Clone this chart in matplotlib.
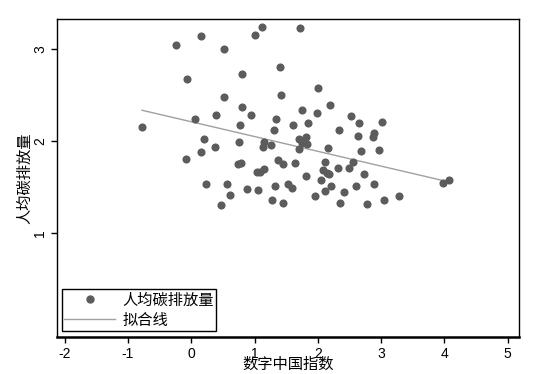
import matplotlib
matplotlib.use("Agg")
import matplotlib.pyplot as plt
from matplotlib.lines import Line2D
import numpy as np

# 数字中国指数 (x) and 人均碳排放量 (y)
digital_index = [
    1.110, 1.716, 0.155, 1.004, -0.245, 0.525, 1.399, 0.794, -0.066, 0.525,
    1.415, 0.803, 0.060, 0.398, 0.946, 1.341, 0.772, 1.309, 1.610, -0.778,
    0.202, 0.372, 0.762, 1.157, 1.131, 1.262, 0.155, -0.087, 0.731, 0.783,
    1.373, 1.452, 1.632, 1.031, 1.083, 1.157, 0.225, 0.566, 0.882, 1.056,
    1.316, 1.526, 1.594, 0.620, 0.466, 1.278, 1.447, 1.996, 2.190, 1.752,
    1.985, 1.837, 2.527, 2.649, 3.017, 2.337, 2.628, 2.891, 2.875, 1.811,
    1.705, 1.743, 1.822, 1.700, 2.158, 2.685, 2.970, 2.106, 2.549, 2.084,
    2.138, 2.179, 2.321, 2.491, 2.732, 1.811, 2.048, 2.886, 3.982, 4.067,
    2.211, 2.596, 2.111, 2.411, 1.958, 2.348, 2.775, 3.039, 3.281,
]
carbon_pc = [
    3.246, 3.228, 3.145, 3.152, 3.047, 3.007, 2.804, 2.735, 2.677, 2.485,
    2.500, 2.376, 2.242, 2.283, 2.289, 2.242, 2.177, 2.126, 2.177, 2.159,
    2.022, 1.941, 1.989, 1.989, 1.941, 1.957, 1.887, 1.808, 1.750, 1.764,
    1.793, 1.753, 1.767, 1.663, 1.670, 1.696, 1.533, 1.533, 1.485, 1.471,
    1.514, 1.536, 1.489, 1.420, 1.311, 1.365, 1.329, 2.579, 2.391, 2.343,
    2.304, 2.202, 2.272, 2.202, 2.213, 2.123, 2.061, 2.087, 2.047, 2.050,
    2.022, 1.978, 1.967, 1.916, 1.924, 1.895, 1.909, 1.778, 1.772, 1.688,
    1.659, 1.641, 1.707, 1.707, 1.645, 1.623, 1.579, 1.539, 1.550, 1.579,
    1.517, 1.514, 1.463, 1.446, 1.402, 1.326, 1.315, 1.362, 1.409,
]
x_ticks = [-2, -1, 0, 1, 2, 3, 4, 5]
y_ticks = [1, 2, 3]

cjk = ["Noto Sans CJK SC", "DejaVu Sans"]
num_font = "Liberation Sans"
dot_color = "#5c5c5c"
fit_color = "#a0a0a0"

x = np.array(digital_index)
y = np.array(carbon_pc)
slope, intercept = np.polyfit(x, y, 1)
xf = np.array([x.min(), x.max()])
yf = intercept + slope * xf

fig = plt.figure(figsize=(5.38, 3.74), dpi=100)
ax = fig.add_axes([0.1059, 0.0989, 0.8588, 0.8503])

ax.scatter(x, y, s=34, color=dot_color, linewidths=0, zorder=3)
ax.plot(xf, yf, color=fit_color, lw=1.0, zorder=2)

ax.set_xlim(-2.122, 5.179)
ax.set_ylim(-0.127, 3.329)
ax.set_xticks(x_ticks)
ax.set_yticks(y_ticks)
ax.set_xticklabels([str(t) for t in x_ticks], fontfamily=num_font, fontsize=10)
ax.set_yticklabels([str(t) for t in y_ticks], fontfamily=num_font, fontsize=10,
                   rotation=90, va="center")
ax.tick_params(direction="out", length=4, width=1, color="black", pad=3)

for side in ["top", "right", "left"]:
    ax.spines[side].set_linewidth(1.0)
ax.spines["bottom"].set_linewidth(1.8)

ax.set_xlabel("数字中国指数", fontfamily=cjk, fontsize=11, va="center")
ax.xaxis.set_label_coords(0.5, -0.086)
ax.set_ylabel("人均碳排放量", fontfamily=cjk, fontsize=11, va="center")
ax.yaxis.set_label_coords(-0.069, 0.5)

handles = [
    Line2D([], [], ls="none", marker="o", markersize=5, color=dot_color),
    Line2D([], [], color=fit_color, lw=1.0),
]
leg = ax.legend(handles, ["人均碳排放量", "拟合线"], loc="lower left",
                bbox_to_anchor=(0.011, 0.019), prop={"family": cjk, "size": 11},
                frameon=True, fancybox=False, framealpha=1, edgecolor="black",
                borderpad=0.15, labelspacing=0.2, handlelength=3.3,
                handletextpad=0.5, borderaxespad=0)
leg.get_frame().set_linewidth(1.0)

fig.savefig("out.png", dpi=100)
